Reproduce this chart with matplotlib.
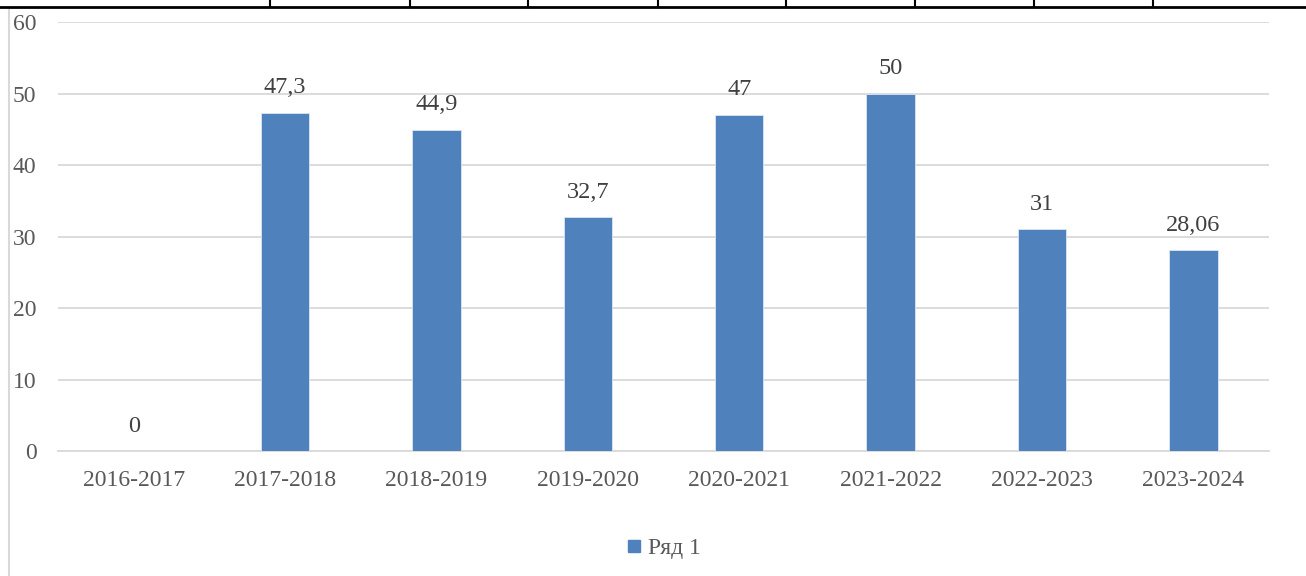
#!/usr/bin/env python3
"""Bar chart of yearly values (Ряд 1), styled like an Excel chart embedded in a table."""

import matplotlib
matplotlib.use("Agg")
import matplotlib.pyplot as plt
from matplotlib.lines import Line2D

# Data
years = ["2016-2017", "2017-2018", "2018-2019", "2019-2020",
         "2020-2021", "2021-2022", "2022-2023", "2023-2024"]
values = [0, 47.3, 44.9, 32.7, 47, 50, 31, 28.06]
value_labels = ["0", "47,3", "44,9", "32,7", "47", "50", "31", "28,06"]
y_ticks = [0, 10, 20, 30, 40, 50, 60]
series_name = "Ряд 1"

BAR_COLOR = "#4F81BD"
GRID_COLOR = "#D9D9D9"
TEXT_COLOR = "#595959"
LABEL_COLOR = "#404040"

plt.rcParams['font.family'] = ['Liberation Serif', 'DejaVu Serif']

fig = plt.figure(figsize=(13.06, 5.76), dpi=100)
W, H = 1306, 576
ax = fig.add_axes([58 / W, 1 - 451 / H, (1269 - 58) / W, (451 - 22) / H])

x = list(range(len(years)))
bars = ax.bar(x, values, width=0.32, color=BAR_COLOR, edgecolor="#DCE6F2",
              linewidth=0.6, zorder=3)

for xi, v, lab in zip(x, values, value_labels):
    ax.annotate(lab, (xi, v), xytext=(0, 18), textcoords="offset points",
                ha="center", va="center", fontsize=17.5, color=LABEL_COLOR)

ax.set_xlim(-0.5, len(years) - 0.5)
ax.set_ylim(0, 60)
ax.set_yticks(y_ticks)
ax.set_yticklabels([str(t) for t in y_ticks])
ax.set_xticks(x)
ax.set_xticklabels(years)
ax.tick_params(axis="both", length=0, labelsize=17, labelcolor=TEXT_COLOR)
ax.tick_params(axis="y", pad=15.5)
ax.tick_params(axis="x", pad=14)
ax.yaxis.grid(True, color=GRID_COLOR, linewidth=1.3, zorder=0)
for s in ["top", "right", "left"]:
    ax.spines[s].set_visible(False)
ax.spines["bottom"].set_color(GRID_COLOR)
ax.spines["bottom"].set_linewidth(1.3)

# legend
handle = Line2D([], [], marker="s", linestyle="none", markersize=9,
                markerfacecolor=BAR_COLOR, markeredgecolor=BAR_COLOR)
fig.legend([handle], [series_name], loc="center", bbox_to_anchor=(664 / W, 1 - 548 / H),
           frameon=False, fontsize=17, labelcolor=TEXT_COLOR, handlelength=0.6,
           handletextpad=0.3)

# chart frame on the left and the table row border at the top
fig.add_artist(Line2D([9 / W, 9 / W], [0, 1 - 9 / H], transform=fig.transFigure,
                      color=GRID_COLOR, linewidth=1.5))
fig.add_artist(Line2D([0, 1], [1 - 6.5 / H, 1 - 6.5 / H], transform=fig.transFigure,
                      color="black", linewidth=2))
for cx in [270, 410, 528, 658, 786, 915, 1034, 1153]:
    fig.add_artist(Line2D([cx / W, cx / W], [1 - 7 / H, 1], transform=fig.transFigure,
                          color="black", linewidth=1.5))

fig.savefig("out.png", dpi=100)
